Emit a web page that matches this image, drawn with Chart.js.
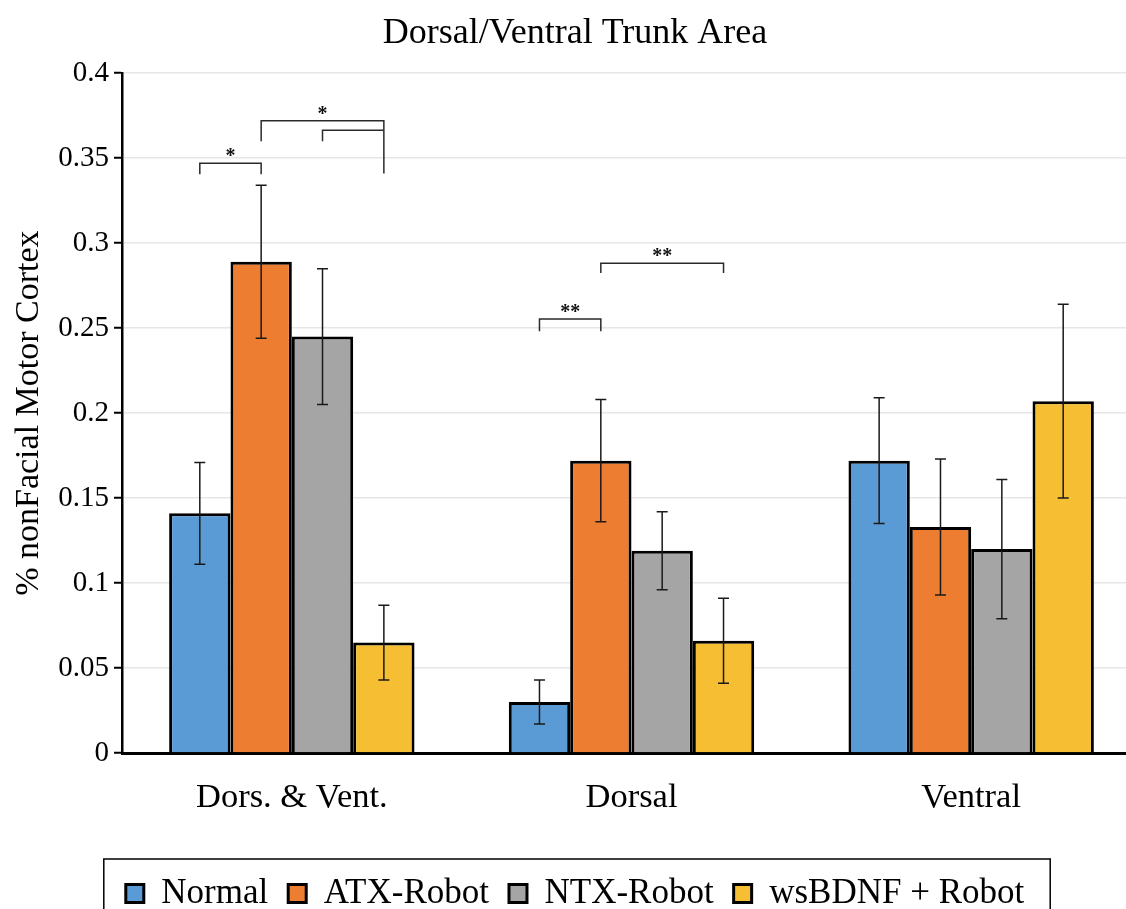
<!DOCTYPE html>
<html>
<head>
<meta charset="utf-8">
<title>Dorsal/Ventral Trunk Area</title>
<script src="https://cdn.jsdelivr.net/npm/chart.js@4.4.1/dist/chart.umd.min.js"></script>
<style>
  html, body { margin: 0; padding: 0; background: #fff; overflow: hidden; }
  #wrap { width: 1126px; height: 909px; overflow: hidden; }
  #wrap div { width: 1150px; height: 909px; }
</style>
</head>
<body>
<div id="wrap"><div><canvas id="trunkChart"></canvas></div></div>
<script>
const categories = ['Dors. & Vent.', 'Dorsal', 'Ventral'];
const groups = ['Normal', 'ATX-Robot', 'NTX-Robot', 'wsBDNF + Robot'];

const normal = [0.141, 0.030, 0.172];
const atxRobot = [0.289, 0.172, 0.133];
const ntxRobot = [0.245, 0.119, 0.120];
const wsBdnfRobot = [0.065, 0.066, 0.207];

// standard error for each bar
const normalErr = [0.030, 0.013, 0.037];
const atxRobotErr = [0.045, 0.036, 0.040];
const ntxRobotErr = [0.040, 0.023, 0.041];
const wsBdnfRobotErr = [0.022, 0.025, 0.057];

const yTicks = [0, 0.05, 0.1, 0.15, 0.2, 0.25, 0.3, 0.35, 0.4];

// significance brackets: category, first group, last group, bar level, left / right end, marker
const sigBrackets = [
  { cat: 0, from: 0, to: 1, y: 0.347, yl: 0.3405, yr: 0.3405, label: '*' },
  { cat: 0, from: 1, to: 3, y: 0.372, yl: 0.360, yr: 0.341, label: '*' },
  { cat: 0, from: 2, to: 3, y: 0.3665, yl: 0.360, yr: 0.3665, label: '' },
  { cat: 1, from: 0, to: 1, y: 0.2553, yl: 0.2482, yr: 0.2482, label: '**' },
  { cat: 1, from: 1, to: 3, y: 0.2882, yl: 0.2824, yr: 0.2824, label: '**' }
];

const colors = ['#5B9BD5', '#ED7D31', '#A5A5A5', '#F6BF33'];
const serif = "'Liberation Serif', 'Times New Roman', serif";

const values = [normal, atxRobot, ntxRobot, wsBdnfRobot];
const errors = [normalErr, atxRobotErr, ntxRobotErr, wsBdnfRobotErr];

const errorBars = {
  id: 'errorBars',
  afterDatasetsDraw(chart) {
    const { ctx, scales: { y } } = chart;
    ctx.save();
    ctx.strokeStyle = '#1a1a1a';
    ctx.lineWidth = 1.5;
    chart.data.datasets.forEach((ds, i) => {
      chart.getDatasetMeta(i).data.forEach((bar, j) => {
        const v = values[i][j], e = errors[i][j];
        const top = y.getPixelForValue(v + e);
        const bottom = y.getPixelForValue(v - e);
        ctx.beginPath();
        ctx.moveTo(bar.x, top); ctx.lineTo(bar.x, bottom);
        ctx.moveTo(bar.x - 5.5, top); ctx.lineTo(bar.x + 5.5, top);
        ctx.moveTo(bar.x - 5.5, bottom); ctx.lineTo(bar.x + 5.5, bottom);
        ctx.stroke();
      });
    });
    ctx.restore();
  }
};

const brackets = {
  id: 'brackets',
  afterDatasetsDraw(chart) {
    const { ctx, scales: { y } } = chart;
    ctx.save();
    ctx.strokeStyle = '#2a2a2a';
    ctx.fillStyle = '#111';
    ctx.lineWidth = 1.5;
    ctx.font = 'bold 20px ' + serif;
    ctx.textAlign = 'center';
    ctx.textBaseline = 'middle';
    sigBrackets.forEach(b => {
      const x0 = chart.getDatasetMeta(b.from).data[b.cat].x;
      const x1 = chart.getDatasetMeta(b.to).data[b.cat].x;
      const yy = y.getPixelForValue(b.y);
      ctx.beginPath();
      ctx.moveTo(x0, y.getPixelForValue(b.yl));
      ctx.lineTo(x0, yy);
      ctx.lineTo(x1, yy);
      ctx.lineTo(x1, y.getPixelForValue(b.yr));
      ctx.stroke();
      if (b.label) ctx.fillText(b.label, (x0 + x1) / 2, yy - 6);
    });
    ctx.restore();
  }
};

// box drawn round the legend row
const legendFrame = {
  id: 'legendFrame',
  afterDraw(chart) {
    const hb = chart.legend.legendHitBoxes;
    if (!hb || !hb.length) return;
    const last = hb[hb.length - 1];
    const { ctx } = chart;
    ctx.save();
    ctx.strokeStyle = '#000';
    ctx.lineWidth = 1.5;
    ctx.strokeRect(hb[0].left - 22, hb[0].top - 17, last.left + last.width - hb[0].left + 48, 90);
    ctx.restore();
  }
};

new Chart(document.getElementById('trunkChart'), {
  type: 'bar',
  data: {
    labels: categories,
    datasets: groups.map((g, i) => ({
      label: g,
      data: values[i],
      backgroundColor: colors[i],
      borderColor: '#000',
      borderWidth: 3,
      categoryPercentage: 0.7225,
      barPercentage: 1.0
    }))
  },
  options: {
    responsive: true,
    maintainAspectRatio: false,
    animation: false,
    layout: { padding: { left: 9, right: 9, top: 0, bottom: -12 } },
    plugins: {
      title: {
        display: true,
        text: 'Dorsal/Ventral Trunk Area',
        color: '#000',
        font: { family: serif, size: 36, weight: 'normal' },
        padding: { top: 12, bottom: 18 }
      },
      legend: {
        position: 'bottom',
        labels: {
          color: '#000',
          font: { family: serif, size: 35 },
          boxWidth: 18,
          boxHeight: 18,
          padding: 20
        }
      },
      tooltip: { enabled: false }
    },
    scales: {
      x: {
        grid: { display: false },
        border: { color: '#000', width: 3 },
        ticks: { color: '#000', font: { family: serif, size: 34.5 }, padding: 16 },
        afterFit(scale) { scale.height = 103; }
      },
      y: {
        min: 0,
        max: 0.4,
        afterBuildTicks(scale) { scale.ticks = yTicks.map(v => ({ value: v })); },
        ticks: {
          color: '#000',
          font: { family: serif, size: 29 },
          padding: 5,
          callback: v => String(+v.toFixed(2))
        },
        grid: { color: '#e6e6e6', lineWidth: 1.5, tickColor: '#000', tickLength: 8, tickWidth: 2 },
        border: { color: '#000', width: 2.5 },
        title: {
          display: true,
          text: '% nonFacial Motor Cortex',
          color: '#000',
          font: { family: serif, size: 34 },
          padding: { top: 0, bottom: 0 }
        },
        afterFit(scale) { scale.width = 113; }
      }
    }
  },
  plugins: [errorBars, brackets, legendFrame]
});
</script>
</body>
</html>
